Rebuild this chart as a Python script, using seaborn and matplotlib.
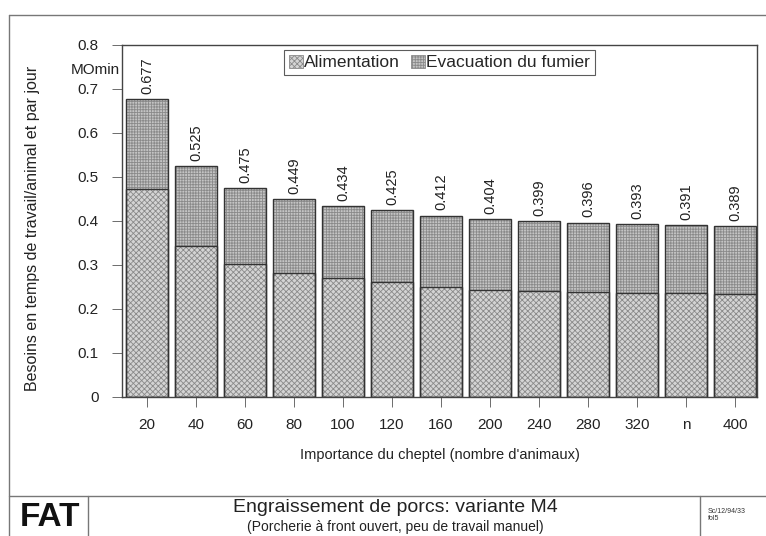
import matplotlib
matplotlib.use("Agg")
import matplotlib.pyplot as plt
from matplotlib.lines import Line2D
from matplotlib.patches import Patch
import seaborn as sns
import pandas as pd
import numpy as np

categories = ["20", "40", "60", "80", "100", "120", "160", "200", "240", "280", "320", "n", "400"]
totals = [0.677, 0.525, 0.475, 0.449, 0.434, 0.425, 0.412, 0.404, 0.399, 0.396, 0.393, 0.391, 0.389]
alimentation = [0.472, 0.343, 0.302, 0.281, 0.270, 0.262, 0.250, 0.244, 0.240, 0.238, 0.237, 0.236, 0.235]
yticks = [0, 0.1, 0.2, 0.3, 0.4, 0.5, 0.6, 0.7, 0.8]

sns.set_style("white")
plt.rcParams["font.family"] = ["Liberation Sans", "DejaVu Sans"]
plt.rcParams["hatch.linewidth"] = 0.6

HATCH_COL = "#8a8a8a"
EVAC_FACE = "#c4c4c4"
ALIM_FACE = "#d4d4d4"

df = pd.DataFrame({"cat": categories, "total": totals, "alim": alimentation})

fig = plt.figure(figsize=(7.66, 5.36), dpi=100)
ax = fig.add_axes([122 / 766, 1 - 397 / 536, (757 - 122) / 766, (397 - 45) / 536])

# hatched fills (hatch colour follows the edge colour)
sns.barplot(data=df, x="cat", y="total", ax=ax, color=EVAC_FACE, width=0.86,
            edgecolor=HATCH_COL, linewidth=0, hatch="++++++", saturation=1)
sns.barplot(data=df, x="cat", y="alim", ax=ax, color=ALIM_FACE, width=0.86,
            edgecolor=HATCH_COL, linewidth=0, hatch="xxxxxx", saturation=1)
# dark outlines
sns.barplot(data=df, x="cat", y="total", ax=ax, color="#333333", width=0.86,
            fill=False, linewidth=1.0)
sns.barplot(data=df, x="cat", y="alim", ax=ax, color="#333333", width=0.86,
            fill=False, linewidth=1.0)

for i, t in enumerate(totals):
    ax.text(i, t + 0.012, f"{t:.3f}", rotation=90, ha="center", va="bottom",
            fontsize=10.5, color="#222222")

ax.set_xlim(-0.51, 12.45)
ax.set_ylim(0, 0.8)
ax.set_yticks(yticks)
ax.set_yticklabels([f"{v:g}" for v in yticks], fontsize=11)
ax.tick_params(axis="y", direction="out", length=7, width=0.6, color="#555555", pad=10, labelcolor="#222222")
ax.tick_params(axis="x", direction="out", length=7, width=0.6, color="#555555", pad=8, labelsize=11, labelcolor="#222222")
ax.tick_params(left=True, bottom=True)
for s in ax.spines.values():
    s.set_color("#444444")
    s.set_linewidth(1.0)

ax.set_xlabel("Importance du cheptel (nombre d'animaux)", fontsize=10.5, labelpad=12, color="#222222")
ax.set_ylabel("")
fig.text(33 / 766, 1 - 228 / 536, "Besoins en temps de travail/animal et par jour", rotation=90,
         ha="center", va="center", fontsize=11.5, color="#222222")
fig.text(95 / 766, 1 - 70 / 536, "MOmin", ha="center", va="center", fontsize=11, color="#222222")

handles = [Patch(facecolor=ALIM_FACE, edgecolor=HATCH_COL, hatch="xxxxxx", linewidth=0.6),
           Patch(facecolor=EVAC_FACE, edgecolor=HATCH_COL, hatch="++++++", linewidth=0.6)]
leg = ax.legend(handles, ["Alimentation", "Evacuation du fumier"], loc="upper center",
                bbox_to_anchor=(0.5, 1.0), ncol=2, frameon=True, fancybox=False,
                fontsize=12.5, handlelength=0.8, handleheight=0.8, handletextpad=0.1,
                columnspacing=0.6, borderpad=0.25, borderaxespad=0.3)
leg.get_frame().set_edgecolor("#333333")
leg.get_frame().set_linewidth(0.8)

# page frame lines
def hline(y, x0, x1, lw=1.0):
    fig.add_artist(Line2D([x0 / 766, x1 / 766], [1 - y / 536, 1 - y / 536], color="#777777", lw=lw))

def vline(x, y0, y1, lw=1.0):
    fig.add_artist(Line2D([x / 766, x / 766], [1 - y0 / 536, 1 - y1 / 536], color="#777777", lw=lw))

hline(15, 9, 766)
vline(9, 15, 536)
hline(496, 9, 766)
vline(88, 496, 536)
vline(700, 496, 536)

fig.text(50 / 766, 1 - 518 / 536, "FAT", ha="center", va="center", fontsize=24,
         fontweight="heavy", color="#111111")
fig.text(395 / 766, 1 - 508 / 536, "Engraissement de porcs: variante M4", ha="center",
         va="center", fontsize=14, color="#222222")
fig.text(395 / 766, 1 - 527 / 536, "(Porcherie à front ouvert, peu de travail manuel)",
         ha="center", va="center", fontsize=10, color="#222222")
fig.text(708 / 766, 1 - 515 / 536, "Sc/12/94/33\nfol5", ha="left", va="center",
         fontsize=5, color="#333333", linespacing=1.1)

fig.savefig("out.png", dpi=100)
